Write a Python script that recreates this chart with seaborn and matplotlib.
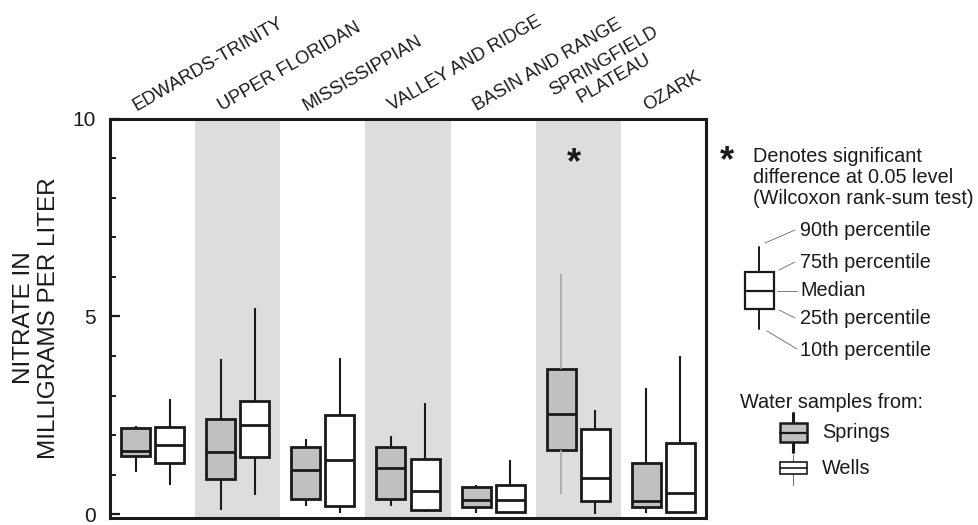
import numpy as np
import pandas as pd
import matplotlib
matplotlib.use("Agg")
import matplotlib.pyplot as plt
from matplotlib import transforms
from matplotlib.ticker import MultipleLocator
from matplotlib.patches import Rectangle
import seaborn as sns

# ---------------- data ----------------
regions = ["EDWARDS-TRINITY", "UPPER FLORIDAN", "MISSISSIPPIAN", "VALLEY AND RIDGE",
           "BASIN AND RANGE", "SPRINGFIELD\nPLATEAU", "OZARK"]
sources = ["Springs", "Wells"]
significant = [False, False, False, False, False, True, False]

springs_p10 = [1.07, 0.11, 0.20, 0.20, 0.03, 0.52, 0.03]
springs_p25 = [1.48, 0.89, 0.39, 0.39, 0.19, 1.62, 0.19]
springs_p50 = [1.61, 1.58, 1.11, 1.16, 0.37, 2.54, 0.33]
springs_p75 = [2.18, 2.42, 1.71, 1.71, 0.70, 3.68, 1.29]
springs_p90 = [2.23, 3.92, 1.91, 1.99, 0.73, 6.07, 3.20]

wells_p10 = [0.73, 0.49, 0.03, 0.06, 0.05, 0.00, 0.05]
wells_p25 = [1.29, 1.44, 0.22, 0.11, 0.07, 0.33, 0.07]
wells_p50 = [1.75, 2.25, 1.37, 0.58, 0.37, 0.93, 0.54]
wells_p75 = [2.21, 2.87, 2.50, 1.41, 0.75, 2.15, 1.79]
wells_p90 = [2.92, 5.21, 3.95, 2.82, 1.38, 2.64, 3.99]

yticks_major = [0, 5, 10]

# build long table (five summary values per box -> exact percentiles with whis=(0,100))
stats = {
    "Springs": [springs_p10, springs_p25, springs_p50, springs_p75, springs_p90],
    "Wells": [wells_p10, wells_p25, wells_p50, wells_p75, wells_p90],
}
rows = []
for i, reg in enumerate(regions):
    for src in sources:
        for arr in stats[src]:
            rows.append({"region": reg, "source": src, "nitrate": arr[i]})
df = pd.DataFrame(rows)

# ---------------- style ----------------
sns.set_theme(style="white")
plt.rcParams["font.family"] = ["Liberation Sans", "DejaVu Sans"]

INK = "#1a1a1a"
BAND = "#dddddd"
SPRING_FILL = "#c0c0c0"

W, H = 979, 525
fig = plt.figure(figsize=(W / 100, H / 100), dpi=100)
ax = fig.add_axes([110 / W, 1 - 517.5 / H, (706 - 110) / W, (517.5 - 118.5) / H])

for i in range(1, len(regions), 2):
    ax.axvspan(i - 0.5, i + 0.5, color=BAND, lw=0, zorder=0)

sns.boxplot(data=df, x="region", y="nitrate", hue="source", order=regions,
            hue_order=sources, palette={"Springs": SPRING_FILL, "Wells": "#ffffff"},
            saturation=1, whis=(0, 100), showcaps=False, showfliers=False,
            width=0.8, gap=0.15, linecolor=INK, linewidth=2.0,
            whiskerprops={"linewidth": 1.5}, legend=False, ax=ax)

# lighter whiskers for the Springfield Plateau springs box
sp_idx = 5
for ln in ax.lines:
    xd = np.asarray(ln.get_xdata(), dtype=float)
    if len(xd) == 2 and abs(xd[0] - xd[1]) < 1e-9 and abs(xd[0] - (sp_idx - 0.2)) < 0.05:
        ln.set_color("#a8a8a8")
        ln.set_linewidth(1.2)

ax.set_xlim(-0.5, len(regions) - 0.5)
ax.set_ylim(-0.08, 10)
ax.set_xticks([])
ax.set_xlabel("")
ax.set_yticks(yticks_major)
ax.set_yticklabels([str(t) for t in yticks_major])
ax.yaxis.set_minor_locator(MultipleLocator(1))
ax.tick_params(axis="y", which="major", direction="in", length=7.5, width=1.6,
               pad=10.5, labelsize=15, left=True, color=INK, labelcolor=INK)
ax.tick_params(axis="y", which="minor", direction="in", length=4.5, width=1.4,
               left=True, color=INK)
for s in ax.spines.values():
    s.set_visible(True)
    s.set_linewidth(2.2)
    s.set_color(INK)

ax.set_ylabel("NITRATE IN\nMILLIGRAMS PER LITER", fontsize=17.5, color=INK,
              labelpad=9, linespacing=1.15)

# rotated category labels above the plot
lab_tr = transforms.offset_copy(transforms.blended_transform_factory(ax.transData, ax.transAxes),
                                fig=fig, x=0, y=5.5, units="points")
for i, reg in enumerate(regions):
    ax.text(i - 0.19, 1.0, reg, transform=lab_tr, rotation=30, rotation_mode="anchor",
            ha="left", va="baseline", fontsize=13.2, color=INK, multialignment="center",
            linespacing=1.2)
    if significant[i]:
        ax.text(i - 0.05, 8.62, "*", ha="center", va="baseline", fontsize=26,
                fontweight="bold", color=INK)

# ---------------- explanation (legend) ----------------
lax = fig.add_axes([0, 0, 1, 1])
lax.set_xlim(0, W)
lax.set_ylim(H, 0)
lax.axis("off")
lax.patch.set_alpha(0)

TXT = 14.3
lax.text(727, 171, "*", ha="center", va="baseline", fontsize=26, fontweight="bold", color=INK)
lax.text(753, 147, "Denotes significant\ndifference at 0.05 level\n(Wilcoxon rank-sum test)",
         ha="left", va="top", fontsize=TXT, color=INK, linespacing=1.15)

# example box
bx0, bx1 = 745, 774
bxc = (bx0 + bx1) / 2
lax.plot([bxc, bxc], [247, 272], color=INK, lw=1.4)
lax.plot([bxc, bxc], [309, 329], color=INK, lw=1.4)
lax.add_patch(Rectangle((bx0, 272), bx1 - bx0, 309 - 272, fill=False, ec=INK, lw=1.6))
lax.plot([bx0, bx1], [291, 291], color=INK, lw=1.6)

labels = ["90th percentile", "75th percentile", "Median", "25th percentile", "10th percentile"]
label_y = [231, 263, 291, 318, 350]
lead_from = [(765, 243), (779, 270), (777, 291), (779, 310), (767, 331)]
lead_to = [(795, 230), (795, 262), (797, 291), (795, 318), (797, 349)]
for lab, ly, p0, p1 in zip(labels, label_y, lead_from, lead_to):
    lax.plot([p0[0], p1[0]], [p0[1], p1[1]], color="#666666", lw=0.6)
    lax.text(800, ly, lab, ha="left", va="center", fontsize=TXT, color=INK)

lax.text(740, 402, "Water samples from:", ha="left", va="center", fontsize=TXT, color=INK)

# springs icon
ix0, ix1 = 780, 807
ixc = (ix0 + ix1) / 2
lax.plot([ixc, ixc], [413, 452], color=INK, lw=2.2, zorder=1)
lax.add_patch(Rectangle((ix0, 423), ix1 - ix0, 19, fc=SPRING_FILL, ec=INK, lw=1.8, zorder=2))
lax.plot([ix0, ix1], [432.5, 432.5], color=INK, lw=1.6, zorder=3)
lax.text(822, 432, "Springs", ha="left", va="center", fontsize=TXT, color=INK)

# wells icon
lax.plot([ixc, ixc], [455, 485], color="#777777", lw=0.8, zorder=1)
lax.add_patch(Rectangle((ix0, 462), ix1 - ix0, 12, fc="white", ec=INK, lw=1.2, zorder=2))
lax.plot([ix0, ix1], [468, 468], color=INK, lw=1.2, zorder=3)
lax.text(822, 468, "Wells", ha="left", va="center", fontsize=TXT, color=INK)

fig.savefig("out.png", dpi=100)
